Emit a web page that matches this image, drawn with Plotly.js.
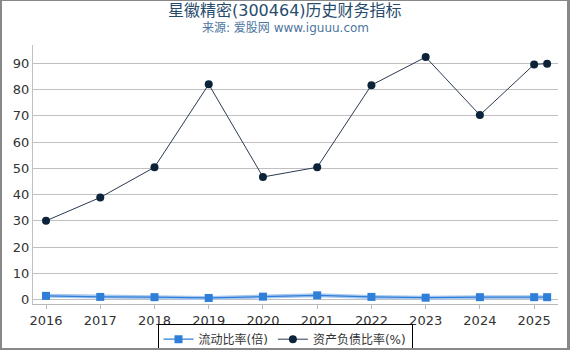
<!DOCTYPE html>
<html><head><meta charset="utf-8">
<script src="https://cdn.plot.ly/plotly-3.0.1.min.js"></script>
<style>
html,body{margin:0;padding:0;background:#fff;}
#wrap{width:570px;height:350px;box-sizing:border-box;border-left:2px solid #888;border-top:1px solid #888;border-right:3px solid #888;border-bottom:2px solid #888;position:relative;overflow:hidden;}
#chart{position:absolute;left:-2px;top:-1px;width:570px;height:350px;}
</style>
</head><body>
<div id="wrap"><div id="chart"></div></div>
<script>
const years = [2016, 2017, 2018, 2019, 2020, 2021, 2022, 2023, 2024, 2025, 2025.24];
const tickYears = [2016, 2017, 2018, 2019, 2020, 2021, 2022, 2023, 2024, 2025];
const tickLabels = ['2016','2017','2018','2019','2020','2021','2022','2023','2024','2025'];
const currentRatio = [1.4, 1.0, 0.9, 0.6, 1.1, 1.6, 1.0, 0.7, 0.9, 0.9, 0.9];
const debtRatio = [30, 38.9, 50.4, 82, 46.7, 50.4, 81.7, 92.4, 70.3, 89.6, 89.9];
const seriesNames = ['流动比率(倍)', '资产负债比率(%)'];
const titleText = '星徽精密(300464)历史财务指标';
const subtitleText = '来源: 爱股网 www.iguuu.com';

const FONT = 'DejaVu Sans, "Noto Sans CJK SC", sans-serif';
const traces = [
  {x: years, y: currentRatio, mode: 'lines', line: {color: '#a8c8f0', width: 4}, showlegend: false, hoverinfo: 'skip'},
  {x: years, y: currentRatio, name: seriesNames[0], mode: 'lines+markers',
   line: {color: '#2f7ed8', width: 1.2}, marker: {symbol: 'square', size: 8, color: '#2f7ed8'}},
  {x: years, y: debtRatio, name: seriesNames[1], mode: 'lines+markers',
   line: {color: '#2b3a52', width: 1}, marker: {symbol: 'circle', size: 8, color: '#0d233a'}}
];
const layout = {
  width: 570, height: 350,
  margin: {l: 33, r: 12, t: 45, b: 46, autoexpand: false},
  paper_bgcolor: '#fff', plot_bgcolor: '#fff',
  font: {family: FONT, size: 12, color: '#333'},
  annotations: [
    {text: titleText, xref: 'paper', yref: 'paper', x: 0.48, y: 1.134, xanchor: 'center', yanchor: 'middle',
     showarrow: false, font: {size: 16, color: '#274b6d', family: FONT}},
    {text: subtitleText, xref: 'paper', yref: 'paper', x: 0.48, y: 1.066, xanchor: 'center', yanchor: 'middle',
     showarrow: false, font: {size: 12, color: '#4d759e', family: FONT}}
  ],
  xaxis: {range: [2015.76, 2025.44], tickmode: 'array', tickvals: tickYears, ticktext: tickLabels,
          showgrid: false, zeroline: false, showline: true, linecolor: '#b8b8b8', linewidth: 1,
          ticks: 'outside', ticklen: 4, tickcolor: '#b8b8b8', tickfont: {size: 13, color: '#333'}},
  yaxis: {range: [-1.7, 97], tickmode: 'array', tickvals: [0,10,20,30,40,50,60,70,80,90],
          showgrid: true, gridcolor: '#c0c0c0', gridwidth: 1, zeroline: false,
          showline: true, linecolor: '#c0c0c0', linewidth: 1, ticks: '', tickfont: {size: 13, color: '#333'}},
  legend: {orientation: 'h', x: 0.48, xanchor: 'center', y: -0.076, yanchor: 'top',
           bordercolor: '#000', borderwidth: 1, bgcolor: '#fff', font: {size: 12, color: '#333'},
           itemwidth: 30, tracegroupgap: 0},
  showlegend: true
};
Plotly.newPlot('chart', traces, layout, {displayModeBar: false, staticPlot: true});
</script>
</body></html>
